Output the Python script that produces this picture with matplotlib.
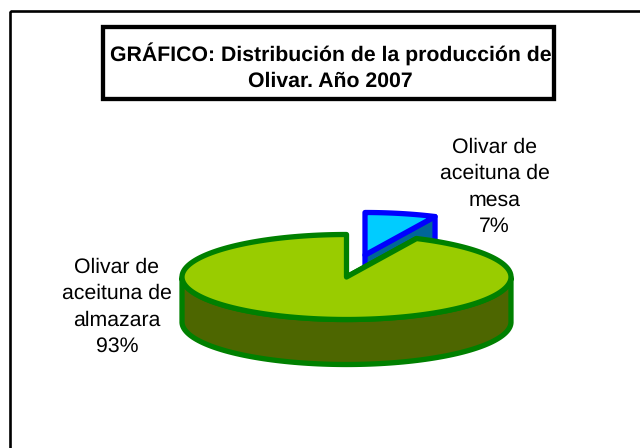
import numpy as np
import matplotlib
matplotlib.use('Agg')
import matplotlib.pyplot as plt
from matplotlib.patches import Polygon, Rectangle

# Data
categories = ['Olivar de\naceituna de\nmesa', 'Olivar de\naceituna de\nalmazara']
shares = [7, 93]
title_lines = ['GRÁFICO: Distribución de la producción de', 'Olivar. Año 2007']

# Pie geometry, in image pixels
cx, cy = 346.5, 277
rx, ry = 164.5, 42.5
depth = 45
explode = (18.5, -22)

plt.rcParams['font.family'] = ['Liberation Sans', 'DejaVu Sans']
plt.rcParams['text.hinting'] = 'none'


def rim(a0, a1, n=200):
    # angles in degrees, clockwise from 12 o'clock
    t = np.radians(np.linspace(a0, a1, n))
    return np.sin(t) * rx, -np.cos(t) * ry


def draw_slice(ax, a0, a1, ox, oy, top, side, edge, lw):
    x0, y0 = cx + ox, cy + oy
    x, y = rim(a0, a1)
    x, y = x + x0, y + y0
    style = dict(edgecolor=edge, linewidth=lw, joinstyle='round')
    # cut faces, seen through the gap
    for a in (a0, a1):
        ex, ey = rim(a, a, 1)
        ex, ey = ex[0] + x0, ey[0] + y0
        if np.sin(np.radians(a)) > 0:
            ax.add_patch(Polygon([(x0, y0), (ex, ey), (ex, ey + depth), (x0, y0 + depth)],
                                 facecolor=side, **style))
    # front wall, only the part of the rim facing the viewer
    mask = np.cos(np.radians(np.linspace(a0, a1, len(x)))) <= 0
    if mask.any():
        fx, fy = x[mask], y[mask]
        pts = np.r_[np.c_[fx, fy], np.c_[fx, fy + depth][::-1]]
        ax.add_patch(Polygon(pts, facecolor=side, **style))
    # top face
    ax.add_patch(Polygon(np.r_[[(x0, y0)], np.c_[x, y]], facecolor=top, **style))


def main():
    fig = plt.figure(figsize=(6.4, 4.48), dpi=100)
    ax = fig.add_axes([0, 0, 1, 1])
    ax.set_xlim(0, 640)
    ax.set_ylim(448, 0)
    ax.axis('off')

    # Outer frame and title box
    ax.add_patch(Rectangle((9.5, 11), 660, 470, fill=False, edgecolor='black', linewidth=1.9))
    ax.add_patch(Rectangle((103, 27.5), 450.5, 72, facecolor='white', edgecolor='black', linewidth=3.1))
    ax.text(330.5, 54, title_lines[0], ha='center', va='center', fontsize=15.3, fontweight='bold')
    ax.text(330.5, 81, title_lines[1], ha='center', va='center', fontsize=15.3, fontweight='bold')

    small = 360 * shares[0] / sum(shares)
    draw_slice(ax, 0, small, explode[0], explode[1], '#00CCFF', '#006699', '#0000FF', 3.8)
    draw_slice(ax, small, 360, 0, 0, '#99CC00', '#4D6600', '#008000', 3.8)

    ax.text(494.5, 187, f'{categories[0]}\n{shares[0]}%', ha='center', va='center',
            fontsize=15.3, linespacing=1.44)
    ax.text(117, 307, f'{categories[1]}\n{shares[1]}%', ha='center', va='center',
            fontsize=15.3, linespacing=1.44)

    fig.savefig('out.png', dpi=100)
    plt.close(fig)


if __name__ == '__main__':
    main()
